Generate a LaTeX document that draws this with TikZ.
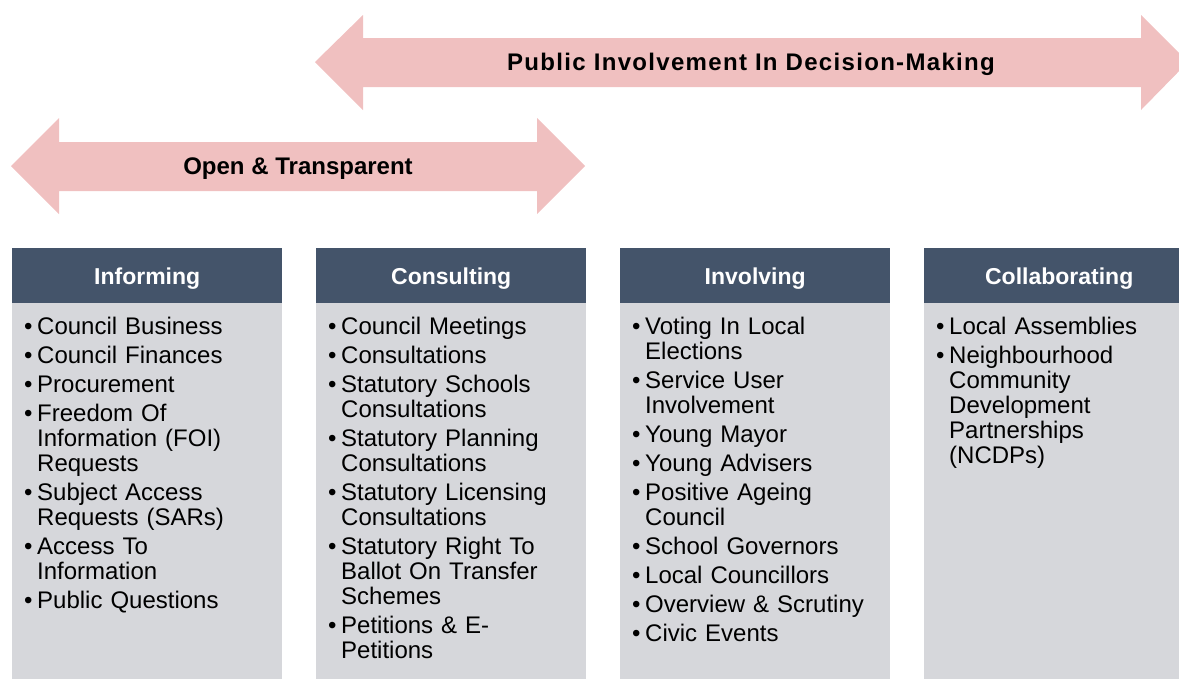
\documentclass[tikz,border=0pt]{standalone}
\usepackage{fontspec}
\setmainfont{Liberation Sans}
\usetikzlibrary{positioning}

\definecolor{arrowpink}{HTML}{F0C0C0}
\definecolor{headblue}{HTML}{44546A}
\definecolor{panelgrey}{HTML}{D6D7DB}

% one bullet item, wrapped lines hang under the text
\newcommand{\bitem}[1]{\hangindent=13pt\hangafter=1\noindent\makebox[13pt][l]{\textbullet}#1\par}

\begin{document}
\begin{tikzpicture}[x=1pt,y=-1pt,
	band/.style={fill=arrowpink},
	bandtext/.style={font=\bfseries\fontsize{24}{28}\selectfont, text height=17pt, text depth=0pt},
	head/.style={fill=headblue, text=white, font=\bfseries\fontsize{23}{28}\selectfont,
		minimum width=270pt, minimum height=55pt, anchor=north west, inner sep=0pt,
		text height=17pt, text depth=-8pt},
	panel/.style={fill=panelgrey},
	list/.style={anchor=north west, inner sep=0pt, text width=250pt, align=left,
		font=\fontsize{24}{25}\selectfont}]

	\useasboundingbox (0,0) rectangle (1179,678);
	\clip (0,0) rectangle (1179,678);

	% public involvement arrow
	\fill[band] (315,62) -- (363,15) -- (363,38) -- (1141,38) -- (1141,15) -- (1188,62)
		-- (1141,110) -- (1141,87) -- (363,87) -- (363,110) -- cycle;
	\node[bandtext] (public) at (751,62) {\addfontfeature{LetterSpace=5.5}Public Involvement In Decision-Making};

	% open and transparent arrow
	\fill[band] (11,166) -- (59,118) -- (59,142) -- (537,142) -- (537,118) -- (585,166)
		-- (537,214) -- (537,191) -- (59,191) -- (59,214) -- cycle;
	\node[bandtext] (open) at (298,166) {Open \& Transparent};

	% column headers
	\node[head] (inform) at (12,248) {Informing};
	\node[head] (consult) at (316,248) {Consulting};
	\node[head] (involve) at (620,248) {Involving};
	\node[head] (collab) at (924,248) {Collaborating};

	% column panels
	\fill[panel] (inform.south west) rectangle ++(270,400);
	\fill[panel] (consult.south west) rectangle ++(270,400);
	\fill[panel] (involve.south west) rectangle ++(270,400);
	\fill[panel] (collab.south west) rectangle ++(270,400);

	% lists
	\node[list] (inform-list) at ([shift={(12,14)}]inform.south west) {\setlength{\parskip}{4pt}%
		\bitem{Council Business}
		\bitem{Council Finances}
		\bitem{Procurement}
		\bitem{Freedom Of\newline Information (FOI)\newline Requests}
		\bitem{Subject Access\newline Requests (SARs)}
		\bitem{Access To\newline Information}
		\bitem{Public Questions}};
	\node[list] (consult-list) at ([shift={(12,14)}]consult.south west) {\setlength{\parskip}{4pt}%
		\bitem{Council Meetings}
		\bitem{Consultations}
		\bitem{Statutory Schools\newline Consultations}
		\bitem{Statutory Planning\newline Consultations}
		\bitem{Statutory Licensing\newline Consultations}
		\bitem{Statutory Right To\newline Ballot On Transfer\newline Schemes}
		\bitem{Petitions \& E-\newline Petitions}};
	\node[list] (involve-list) at ([shift={(12,14)}]involve.south west) {\setlength{\parskip}{4pt}%
		\bitem{Voting In Local\newline Elections}
		\bitem{Service User\newline Involvement}
		\bitem{Young Mayor}
		\bitem{Young Advisers}
		\bitem{Positive Ageing\newline Council}
		\bitem{School Governors}
		\bitem{Local Councillors}
		\bitem{Overview \& Scrutiny}
		\bitem{Civic Events}};
	\node[list] (collab-list) at ([shift={(12,14)}]collab.south west) {\setlength{\parskip}{4pt}%
		\bitem{Local Assemblies}
		\bitem{Neighbourhood\newline Community\newline Development\newline Partnerships\newline (NCDPs)}};

\end{tikzpicture}
\end{document}
